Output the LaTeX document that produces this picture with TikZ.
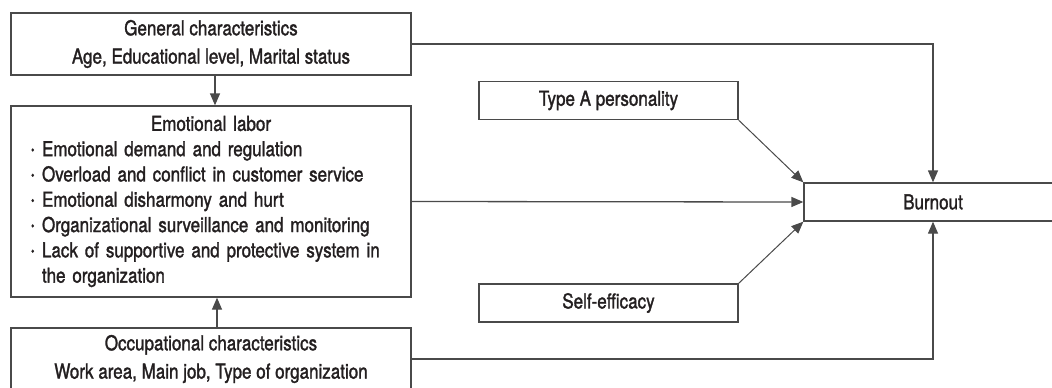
\documentclass[tikz,border=0pt]{standalone}
\usepackage{fontspec}
\setmainfont{TeX Gyre Heros}[FakeStretch=0.83,FakeBold=1.5]
\usetikzlibrary{arrows.meta,positioning}
\definecolor{linegray}{HTML}{4A4A4A}
\definecolor{textdark}{HTML}{231F20}
\tikzset{
  >={Triangle[length=12pt,width=10pt]},
  box/.style ={draw=linegray, line width=1.3pt, inner sep=0pt, text=textdark,
               font=\fontsize{20.5}{25.3}\selectfont, align=center},
  wide/.style={box, minimum width=400pt},
  side/.style={box, minimum width=259pt, minimum height=38pt},
  link/.style={draw=linegray, line width=1.3pt, ->},
  slant/.style={link, line width=1pt}
}
\newcommand{\itm}[1]{\makebox[11pt][l]{\raisebox{2pt}{\fontsize{12}{12}\selectfont\textbullet}}#1}

\begin{document}
\begin{tikzpicture}[x=1pt,y=-1pt]
\useasboundingbox (0,0) rectangle (1052,388);
\node[wide, minimum height=62pt] (gen) at (211,44)
  {General characteristics\\[3pt]Age, Educational level, Marital status};
\node[wide, minimum height=191pt, text width=360pt, align=left] (emo) at (211,201.5)
  {\centering Emotional labor\par\raggedright
   \itm{Emotional demand and regulation}\\
   \itm{Overload and conflict in customer service}\\
   \itm{Emotional disharmony and hurt}\\
   \itm{Organizational surveillance and monitoring}\\
   \itm{Lack of supportive and protective system in}\\
   \hspace*{11pt}the organization};
\node[wide, minimum height=62pt] (occ) at (211,359)
  {Occupational characteristics\\[3pt]Work area, Main job, Type of organization};
\node[side] (typeA) at (608.5,100.5) {Type A personality};
\node[side] (self) at (608.5,303) {Self-efficacy};
\node[side, minimum width=258pt] (burn) at (933,202) {Burnout};

\draw[link] ([xshift=4pt]gen.south) -- ([xshift=4pt]emo.north);
\draw[link] ([xshift=6pt]occ.north) -- ([xshift=6pt]emo.south);
\draw[link] (gen.east) -| (burn.north);
\draw[link] (emo.east) -- (burn.west);
\draw[link] (occ.east) -| (burn.south);
\draw[slant] (typeA.south east) -- (burn.north west);
\draw[slant] (self.north east) -- (burn.south west);
\end{tikzpicture}
\end{document}
